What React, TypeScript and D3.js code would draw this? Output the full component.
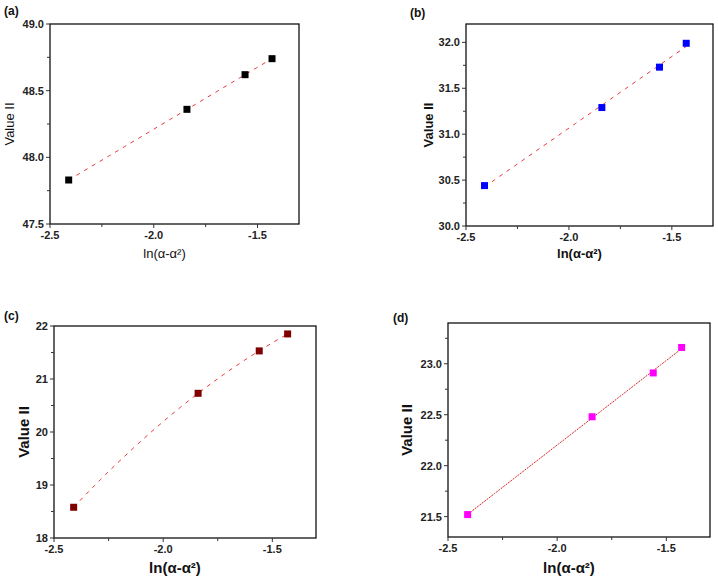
import React from "react";
import * as d3 from "d3";

const xValues = [-2.41, -1.84, -1.56, -1.43];
const valuesA = [47.83, 48.36, 48.62, 48.74];
const valuesB = [30.44, 31.29, 31.73, 31.99];
const valuesC = [18.58, 20.73, 21.53, 21.85];
const valuesD = [21.52, 22.48, 22.91, 23.16];

const xTicks = [-2.5, -2.0, -1.5];
const xMinor = [-2.25, -1.75, -1.25];
const yTicksA = [47.5, 48.0, 48.5, 49.0];
const yMinorA = [47.75, 48.25, 48.75];
const yTicksB = [30.0, 30.5, 31.0, 31.5, 32.0];
const yMinorB = [30.25, 30.75, 31.25, 31.75];
const yTicksC = [18, 19, 20, 21, 22];
const yMinorC = [18.5, 19.5, 20.5, 21.5];
const yTicksD = [21.5, 22.0, 22.5, 23.0];
const yMinorD = [21.75, 22.25, 22.75, 23.25];

const panelLabels = ["(a)", "(b)", "(c)", "(d)"];
const xTitle = "ln(α-α²)";
const yTitle = "Value II";

type PanelCfg = {
  label: string;
  values: number[];
  yDomain: [number, number];
  yTicks: number[];
  yMinor: number[];
  yFmt: (v: number) => string;
  color: string;
  box: { l: number; r: number; t: number; b: number };
  fit: "linear" | "quad";
  dash: string;
  lineColor: string;
  bold: boolean;
  titleSize: number;
  yTitleX: number;
  xTitleY: number;
  labelPos: [number, number];
};

function linearFit(xs: number[], ys: number[]) {
  const mx = d3.mean(xs)!;
  const my = d3.mean(ys)!;
  let num = 0, den = 0;
  xs.forEach((x, i) => { num += (x - mx) * (ys[i] - my); den += (x - mx) * (x - mx); });
  const b = num / den;
  const a = my - b * mx;
  return (x: number) => a + b * x;
}

function quadFit(xs: number[], ys: number[]) {
  const s = (p: number) => d3.sum(xs, (x) => Math.pow(x, p));
  const t = (p: number) => d3.sum(xs, (x, i) => Math.pow(x, p) * ys[i]);
  const M = [
    [s(0), s(1), s(2), t(0)],
    [s(1), s(2), s(3), t(1)],
    [s(2), s(3), s(4), t(2)],
  ];
  for (let i = 0; i < 3; i++) {
    let p = i;
    for (let k = i + 1; k < 3; k++) if (Math.abs(M[k][i]) > Math.abs(M[p][i])) p = k;
    [M[i], M[p]] = [M[p], M[i]];
    for (let k = i + 1; k < 3; k++) {
      const f = M[k][i] / M[i][i];
      for (let j = i; j < 4; j++) M[k][j] -= f * M[i][j];
    }
  }
  const c = [0, 0, 0];
  for (let i = 2; i >= 0; i--) {
    let v = M[i][3];
    for (let j = i + 1; j < 3; j++) v -= M[i][j] * c[j];
    c[i] = v / M[i][i];
  }
  return (x: number) => c[0] + c[1] * x + c[2] * x * x;
}

const hyphen = (s: string) => s.replace("\u2212", "-");
const f1 = (v: number) => hyphen(d3.format(".1f")(v));
const f0 = (v: number) => hyphen(d3.format("d")(v));

const panels: PanelCfg[] = [
  {
    label: panelLabels[0], values: valuesA, yDomain: [47.5, 49.0], yTicks: yTicksA, yMinor: yMinorA, yFmt: f1,
    color: "#000000", box: { l: 50, r: 299, t: 24, b: 224 }, fit: "linear", dash: "4,5", lineColor: "#e8393c",
    bold: false, titleSize: 13, yTitleX: 9, xTitleY: 258, labelPos: [4, 15],
  },
  {
    label: panelLabels[1], values: valuesB, yDomain: [30.0, 32.2], yTicks: yTicksB, yMinor: yMinorB, yFmt: f1,
    color: "#0000ff", box: { l: 466, r: 713, t: 24, b: 226 }, fit: "linear", dash: "4,5", lineColor: "#e8393c",
    bold: true, titleSize: 13, yTitleX: 428, xTitleY: 258, labelPos: [410, 17],
  },
  {
    label: panelLabels[2], values: valuesC, yDomain: [18, 22], yTicks: yTicksC, yMinor: yMinorC, yFmt: f0,
    color: "#800000", box: { l: 54, r: 316, t: 326, b: 538 }, fit: "quad", dash: "4,5", lineColor: "#e8393c",
    bold: true, titleSize: 15, yTitleX: 23, xTitleY: 573, labelPos: [4, 320],
  },
  {
    label: panelLabels[3], values: valuesD, yDomain: [21.3, 23.4], yTicks: yTicksD, yMinor: yMinorD, yFmt: f1,
    color: "#ff00ff", box: { l: 448, r: 710, t: 323, b: 537 }, fit: "linear", dash: "2,1", lineColor: "#d81f26",
    bold: true, titleSize: 15, yTitleX: 406, xTitleY: 573, labelPos: [393, 322],
  },
];

const FONT = "'Liberation Sans', Arial, sans-serif";

function Panel({ cfg }: { cfg: PanelCfg }) {
  const { box } = cfg;
  const x = d3.scaleLinear().domain([-2.5, -1.3]).range([box.l, box.r]);
  const y = d3.scaleLinear().domain(cfg.yDomain).range([box.b, box.t]);
  const fitFn = cfg.fit === "linear" ? linearFit(xValues, cfg.values) : quadFit(xValues, cfg.values);
  const xs = d3.range(0, 41).map((i) => xValues[0] + (xValues[3] - xValues[0]) * (i / 40));
  const line = d3.line<number>().x((d) => x(d)).y((d) => y(fitFn(d)));
  const axisCol = "#333";
  const tickCol = "#222";
  const sq = 7;
  return (
    <g>
      <text x={cfg.labelPos[0]} y={cfg.labelPos[1]} fontFamily={FONT} fontWeight="bold" fontSize={12} fill="#111">
        {cfg.label}
      </text>
      <rect x={box.l} y={box.t} width={box.r - box.l} height={box.b - box.t} fill="none" stroke="#111" strokeWidth={1.3} />
      {xTicks.map((t) => (
        <g key={"xt" + t}>
          <line x1={x(t)} x2={x(t)} y1={box.b} y2={box.b + 4} stroke={axisCol} strokeWidth={1} />
          <text x={x(t)} y={box.b + 15} textAnchor="middle" fontFamily={FONT} fontSize={11} fontWeight="bold" fill={tickCol}>
            {f1(t)}
          </text>
        </g>
      ))}
      {xMinor.filter((t) => x(t) <= box.r).map((t) => (
        <line key={"xm" + t} x1={x(t)} x2={x(t)} y1={box.b} y2={box.b + 3} stroke={axisCol} strokeWidth={1} />
      ))}
      {cfg.yTicks.map((t) => (
        <g key={"yt" + t}>
          <line x1={box.l - 4} x2={box.l} y1={y(t)} y2={y(t)} stroke={axisCol} strokeWidth={1} />
          <text x={box.l - 6} y={y(t) + 4} textAnchor="end" fontFamily={FONT} fontSize={11} fontWeight="bold" fill={tickCol}>
            {cfg.yFmt(t)}
          </text>
        </g>
      ))}
      {cfg.yMinor.filter((t) => y(t) >= box.t).map((t) => (
        <line key={"ym" + t} x1={box.l - 3} x2={box.l} y1={y(t)} y2={y(t)} stroke={axisCol} strokeWidth={1} />
      ))}
      <path d={line(xs) || ""} fill="none" stroke={cfg.lineColor} strokeWidth={1} strokeDasharray={cfg.dash} />
      {xValues.map((xv, i) => (
        <rect key={"p" + i} x={x(xv) - sq / 2} y={y(cfg.values[i]) - sq / 2} width={sq} height={sq} fill={cfg.color} />
      ))}
      <text
        transform={`translate(${cfg.yTitleX},${(box.t + box.b) / 2}) rotate(-90)`}
        textAnchor="middle" dominantBaseline="central" fontFamily={FONT} fontSize={cfg.titleSize}
        fontWeight={cfg.bold ? "bold" : "normal"} fill="#111"
      >
        {yTitle}
      </text>
      <text x={(box.l + box.r) / 2 - 10} y={cfg.xTitleY} textAnchor="middle" fontFamily={FONT} fontSize={cfg.titleSize}
        fontWeight={cfg.bold ? "bold" : "normal"} fill="#111">
        {xTitle}
      </text>
    </g>
  );
}

export default function App() {
  return (
    <svg width={718} height={578} style={{ position: "absolute", left: 0, top: 0, background: "#fff" }}>
      <rect x={0} y={0} width={718} height={578} fill="#fff" />
      {panels.map((p) => (
        <Panel key={p.label} cfg={p} />
      ))}
    </svg>
  );
}
